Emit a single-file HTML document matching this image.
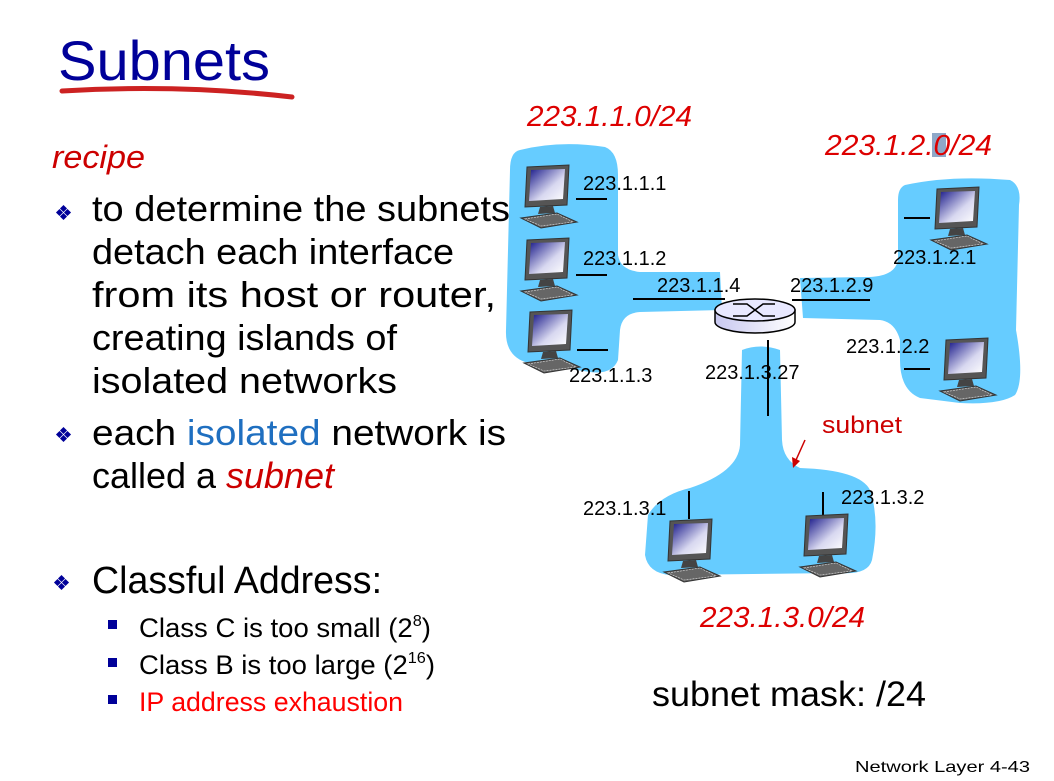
<!DOCTYPE html>
<html><head><meta charset="utf-8"><style>
html,body{margin:0;padding:0;background:#fff;}
svg{display:block}
text{font-family:"Liberation Sans",sans-serif;}
</style></head><body>
<svg width="1054" height="781" viewBox="0 0 1054 781" xmlns="http://www.w3.org/2000/svg">
<defs>
<linearGradient id="scr" x1="0" y1="0" x2="1" y2="1"><stop offset="0" stop-color="#1a1a8a"/><stop offset="0.6" stop-color="#d8d8f0"/><stop offset="1" stop-color="#ffffff"/></linearGradient>
<linearGradient id="rt" x1="0" y1="0" x2="1" y2="0"><stop offset="0" stop-color="#c8c8f0"/><stop offset="1" stop-color="#ffffff"/></linearGradient>
<g id="pc">
<path d="M6 2 L48 0 L46 40 L4 42 Z" fill="#555" stroke="#333" stroke-width="1"/>
<path d="M10 5 L44 4 L42 34 L8 36 Z" fill="url(#scr)"/>
<path d="M19 42 L32 41 L34 48 L17 49 Z" fill="#444"/>
<path d="M0 53 L36 48 L56 57 L20 63 Z" fill="#666" stroke="#333" stroke-width="1"/>
<path d="M4 54 L36 49 L52 57 L20 61 Z" fill="none" stroke="#ddd" stroke-width="0.6" stroke-dasharray="2 1"/>
</g>
</defs>
<!-- title -->
<text x="58" y="80" font-size="56" fill="#000099" textLength="212" lengthAdjust="spacingAndGlyphs">Subnets</text>
<path d="M62 91 Q180 84 292 97" stroke="#cc2222" stroke-width="5" fill="none" stroke-linecap="round"/>
<text x="52" y="168" font-size="32" font-style="italic" fill="#cc0000" textLength="93" lengthAdjust="spacingAndGlyphs">recipe</text>
<!-- bullets -->
<g fill="#000099">
<g transform="translate(57,206)"><rect x="4" y="0" width="5" height="5" transform="rotate(45 6.5 2.5)"/><rect x="0" y="4" width="5" height="5" transform="rotate(45 2.5 6.5)"/><rect x="8" y="4" width="5" height="5" transform="rotate(45 10.5 6.5)"/><rect x="4" y="8" width="5" height="5" transform="rotate(45 6.5 10.5)"/></g>
<g transform="translate(57,428)"><rect x="4" y="0" width="5" height="5" transform="rotate(45 6.5 2.5)"/><rect x="0" y="4" width="5" height="5" transform="rotate(45 2.5 6.5)"/><rect x="8" y="4" width="5" height="5" transform="rotate(45 10.5 6.5)"/><rect x="4" y="8" width="5" height="5" transform="rotate(45 6.5 10.5)"/></g>
<g transform="translate(55,576)"><rect x="4" y="0" width="5" height="5" transform="rotate(45 6.5 2.5)"/><rect x="0" y="4" width="5" height="5" transform="rotate(45 2.5 6.5)"/><rect x="8" y="4" width="5" height="5" transform="rotate(45 10.5 6.5)"/><rect x="4" y="8" width="5" height="5" transform="rotate(45 6.5 10.5)"/></g>
<rect x="108" y="620" width="9" height="9"/><rect x="108" y="658" width="9" height="9"/><rect x="108" y="695" width="9" height="9"/>
</g>
<g font-size="36" fill="#000">
<text x="92" y="221" textLength="418" lengthAdjust="spacingAndGlyphs">to determine the subnets</text>
<text x="92" y="264" textLength="362" lengthAdjust="spacingAndGlyphs">detach each interface</text>
<text x="92" y="307" textLength="404" lengthAdjust="spacingAndGlyphs">from its host or router,</text>
<text x="92" y="350" textLength="305" lengthAdjust="spacingAndGlyphs">creating islands of</text>
<text x="92" y="393" textLength="305" lengthAdjust="spacingAndGlyphs">isolated networks</text>
<text x="92" y="445" textLength="414" lengthAdjust="spacingAndGlyphs">each <tspan fill="#1f6fc0">isolated</tspan> network is</text>
<text x="92" y="488" textLength="242" lengthAdjust="spacingAndGlyphs">called a <tspan fill="#cc0000" font-style="italic">subnet</tspan></text>
<text x="92" y="593" font-size="38" textLength="290" lengthAdjust="spacingAndGlyphs">Classful Address:</text>
</g>
<g font-size="27">
<text x="139" y="637" textLength="292" lengthAdjust="spacingAndGlyphs">Class C is too small (2<tspan font-size="16" dy="-11">8</tspan><tspan dy="11">)</tspan></text>
<text x="139" y="674" textLength="296" lengthAdjust="spacingAndGlyphs">Class B is too large (2<tspan font-size="16" dy="-11">16</tspan><tspan dy="11">)</tspan></text>
<text x="139" y="711" fill="#ff0000" textLength="264" lengthAdjust="spacingAndGlyphs">IP address exhaustion</text>
</g>
<!-- blobs -->
<g fill="#66ccff">
<path d="M520 150 Q560 140 605 147 Q618 152 618 175 L618 255 Q620 270 640 272 L720 272 L722 310 L640 312 Q622 313 620 330 L618 360 Q612 375 590 372 L525 362 Q505 355 506 330 L510 170 Q510 152 520 150 Z"/>
<path d="M905 185 Q950 175 1010 180 Q1022 186 1019 205 L1016 330 Q1025 380 1015 395 Q1000 405 960 403 L920 398 Q900 390 900 360 L900 340 Q895 322 880 320 L803 318 L800 278 L870 277 Q895 276 898 260 L898 200 Q898 188 905 185 Z"/>
<path d="M742 350 Q760 343 780 350 L782 440 Q783 460 800 468 Q860 470 870 490 Q880 520 872 560 Q868 575 840 573 L670 575 Q648 573 645 555 L648 515 Q660 495 690 488 Q738 472 740 445 Z"/>
</g>
<!-- lines -->
<g stroke="#000" stroke-width="2" fill="none">
<line x1="633" y1="299" x2="725" y2="299"/>
<line x1="792" y1="300" x2="870" y2="300"/>
<line x1="768" y1="340" x2="768" y2="416"/>
<line x1="576" y1="199" x2="607" y2="199"/>
<line x1="576" y1="275" x2="607" y2="275"/>
<line x1="577" y1="350" x2="608" y2="350"/>
<line x1="904" y1="218" x2="930" y2="218"/>
<line x1="904" y1="369" x2="930" y2="369"/>
<line x1="689" y1="491" x2="689" y2="519"/>
<line x1="823" y1="492" x2="823" y2="519"/>
</g>
<!-- router -->
<path d="M715 310 L715 322 A40 11 0 0 0 795 322 L795 310 Z" fill="url(#rt)" stroke="#000" stroke-width="1.5"/>
<ellipse cx="755" cy="310" rx="40" ry="11" fill="#e8e8ff" stroke="#000" stroke-width="1.5"/>
<path d="M733 304 L747 304 L763 316 L775 316 M733 316 L747 316 L763 304 L775 304" stroke="#000" stroke-width="1.5" fill="none"/>
<!-- computers -->
<use href="#pc" x="521" y="165"/>
<use href="#pc" x="521" y="238"/>
<use href="#pc" x="524" y="310"/>
<use href="#pc" x="931" y="187"/>
<use href="#pc" x="940" y="338"/>
<use href="#pc" x="664" y="519"/>
<use href="#pc" x="800" y="514"/>
<!-- labels -->
<g font-size="20" fill="#000">
<text x="583" y="190">223.1.1.1</text>
<text x="583" y="265">223.1.1.2</text>
<text x="657" y="292">223.1.1.4</text>
<text x="790" y="292">223.1.2.9</text>
<text x="893" y="264">223.1.2.1</text>
<text x="846" y="353">223.1.2.2</text>
<text x="569" y="382">223.1.1.3</text>
<text x="705" y="379">223.1.3.27</text>
<text x="583" y="515">223.1.3.1</text>
<text x="841" y="504">223.1.3.2</text>
</g>
<g font-size="29" font-style="italic" fill="#dd0000">
<rect x="932" y="133" width="14" height="24" fill="#8fa8c8"/>
<text x="527" y="126" textLength="165" lengthAdjust="spacingAndGlyphs">223.1.1.0/24</text>
<text x="825" y="155" textLength="167" lengthAdjust="spacingAndGlyphs">223.1.2.0/24</text>
<text x="700" y="627" textLength="165" lengthAdjust="spacingAndGlyphs">223.1.3.0/24</text>
</g>
<text x="822" y="433" font-size="24" fill="#cc0000" textLength="80" lengthAdjust="spacingAndGlyphs">subnet</text>
<line x1="805" y1="440" x2="796" y2="460" stroke="#cc0000" stroke-width="1.5"/>
<path d="M793 468 L792 457 L800 461 Z" fill="#cc0000"/>
<text x="652" y="706" font-size="35" fill="#000" textLength="274" lengthAdjust="spacingAndGlyphs">subnet mask: /24</text>
<text x="855" y="772" font-size="16" fill="#000" textLength="175" lengthAdjust="spacingAndGlyphs">Network Layer  4-43</text>
</svg>
</body></html>
